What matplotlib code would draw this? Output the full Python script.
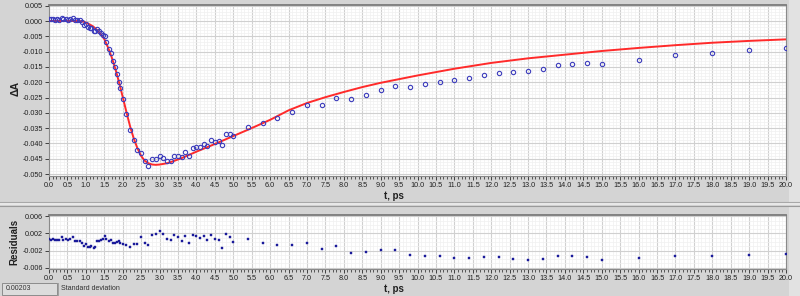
import matplotlib
matplotlib.use('Agg')
import matplotlib.pyplot as plt
from matplotlib.ticker import MultipleLocator, FixedLocator, FormatStrFormatter
from matplotlib.patches import Rectangle
from matplotlib.lines import Line2D

# ---------------- data ----------------
t_data = [0.00, 0.045, 0.11, 0.17, 0.23, 0.28, 0.34, 0.38, 0.45, 0.51, 0.56, 0.64, 0.70, 0.76,
          0.84, 0.89, 0.95, 1.00, 1.05, 1.10, 1.15, 1.21, 1.25, 1.30, 1.35, 1.41, 1.47, 1.52,
          1.56, 1.62, 1.67, 1.73, 1.78, 1.84, 1.90, 1.94, 2.0, 2.1, 2.2, 2.3, 2.4, 2.5, 2.6,
          2.7, 2.8, 2.9, 3.0, 3.1, 3.2, 3.3, 3.4, 3.5, 3.6, 3.7, 3.8, 3.9, 4.0, 4.1, 4.2, 4.3,
          4.4, 4.5, 4.6, 4.7, 4.8, 4.9, 5.0, 5.4, 5.8, 6.2, 6.6, 7.0, 7.4, 7.8, 8.2, 8.6, 9.0,
          9.4, 9.8, 10.2, 10.6, 11.0, 11.4, 11.8, 12.2, 12.6, 13.0, 13.4, 13.8, 14.2, 14.6,
          15.0, 16.0, 17.0, 18.0, 19.0, 20.0]

dA_data = [0.0007, 0.0005, 0.0007, 0.0004, 0.0005, 0.0004, 0.0011, 0.0006, 0.0007, 0.0004,
           0.0008, 0.0011, 0.0003, 0.0003, 0.0002, -0.0002, -0.0013, -0.0009, -0.0019, -0.0022,
           -0.0024, -0.0033, -0.0034, -0.0026, -0.0032, -0.0040, -0.0045, -0.0050, -0.0067,
           -0.0090, -0.0104, -0.0130, -0.0151, -0.0173, -0.0198, -0.0220, -0.0254, -0.0305,
           -0.0355, -0.0389, -0.0420, -0.0430, -0.0459, -0.0473, -0.0452, -0.0450, -0.0442,
           -0.0449, -0.0458, -0.0457, -0.0440, -0.0441, -0.0446, -0.0429, -0.0441, -0.0415,
           -0.0413, -0.0413, -0.0403, -0.0408, -0.0390, -0.0394, -0.0391, -0.0406, -0.0368,
           -0.0369, -0.0376, -0.0345, -0.0333, -0.0317, -0.0298, -0.0275, -0.0274, -0.0252,
           -0.0255, -0.0241, -0.0225, -0.0213, -0.0215, -0.0207, -0.0200, -0.0194, -0.0186,
           -0.0178, -0.0170, -0.0168, -0.0164, -0.0157, -0.0144, -0.0141, -0.0138, -0.0140,
           -0.0127, -0.0110, -0.0105, -0.0095, -0.0087]

t_fit = [0, 0.5, 0.8, 0.9, 1.0, 1.1, 1.2, 1.3, 1.4, 1.5, 1.6, 1.7, 1.8, 1.9, 2.0, 2.1, 2.2,
         2.3, 2.4, 2.5, 2.6, 2.7, 2.8, 2.9, 3.0, 3.2, 3.4, 3.6, 4.0, 4.5, 5.0, 5.5, 6.0, 6.5,
         7.0, 7.5, 8.0, 8.5, 9.0, 9.5, 10, 11, 12, 13, 14, 15, 16, 17, 18, 19, 20]
dA_fit = [0.0, 0.0, 0.0, -0.0001, -0.0005, -0.0011, -0.0018, -0.0029, -0.0042, -0.0059,
          -0.0086, -0.0118, -0.0156, -0.0200, -0.0248, -0.0297, -0.0344, -0.0384, -0.0416,
          -0.0441, -0.0457, -0.0465, -0.0469, -0.0470, -0.0469, -0.0465, -0.0457, -0.0448,
          -0.0427, -0.0402, -0.0376, -0.0350, -0.0323, -0.0292, -0.0268, -0.0249, -0.0232,
          -0.0216, -0.0202, -0.0190, -0.0178, -0.0156, -0.0137, -0.0122, -0.0110, -0.0098,
          -0.0088, -0.0079, -0.0071, -0.0065, -0.0060]

residuals = [0.00066, 0.00050, 0.00074, 0.00043, 0.00050, 0.00043, 0.00112, 0.00058, 0.00074,
             0.00043, 0.00081, 0.00112, 0.00035, 0.00027, 0.00027, -0.00012, -0.00097, -0.00043,
             -0.00112, -0.00112, -0.00097, -0.00136, -0.00112, 0.00027, 0.00027, 0.00043,
             0.00081, 0.00136, 0.00081, 0.00019, 0.00043, -0.00012, -0.00027, 0.00004, 0.00019,
             -0.00012, -0.00058, -0.00081, -0.00112, -0.00050, -0.00035, 0.00112, -0.00019,
             -0.00081, 0.00174, 0.00190, 0.00267, 0.00182, 0.00074, 0.00043, 0.00174, 0.00120,
             0.00019, 0.00143, -0.00027, 0.00174, 0.00143, 0.00089, 0.00143, 0.00043, 0.00174,
             0.00081, 0.00058, -0.00136, 0.00182, 0.00120, 0.00004, 0.00066, -0.00019, -0.00066,
             -0.00081, -0.00019, -0.00167, -0.00089, -0.00260, -0.00236, -0.00190, -0.00190,
             -0.00306, -0.00322, -0.00337, -0.00368, -0.00368, -0.00353, -0.00353, -0.00399,
             -0.00415, -0.00399, -0.00322, -0.00337, -0.00353, -0.00430, -0.00384, -0.00322,
             -0.00337, -0.00306, -0.00275]

main_yticks = [0.005, 0.000, -0.005, -0.010, -0.015, -0.020, -0.025, -0.030, -0.035, -0.040,
               -0.045, -0.050]
res_yticks = [0.006, 0.002, -0.002, -0.006]
std_dev_value = "0.00203"

# ---------------- styling ----------------
W, H = 800, 296
FONT = 'Liberation Sans'
TICK_FS = 5.2
LAB_FS = 7.0
BG = '#d4d4d4'

fig = plt.figure(figsize=(W / 100, H / 100), dpi=100)
fig.patch.set_facecolor(BG)


def px_axes(left, top, right, bottom):
    return fig.add_axes([left / W, (H - bottom) / H, (right - left) / W, (bottom - top) / H])


def style_axes(ax):
    ax.set_facecolor('white')
    for s in ax.spines.values():
        s.set_color('#8a8a8a')
        s.set_linewidth(0.8)
    ax.spines['top'].set_color('#7a7a7a')
    ax.spines['top'].set_linewidth(1.3)
    ax.set_xlim(0, 20)
    ax.xaxis.set_major_locator(MultipleLocator(0.5))
    ax.xaxis.set_minor_locator(MultipleLocator(0.1))
    ax.xaxis.set_major_formatter(FormatStrFormatter('%.1f'))
    ax.tick_params(axis='both', which='major', direction='out', length=3, width=0.7,
                   color='#404040', labelsize=TICK_FS, labelcolor='#202020', pad=1.5)
    ax.tick_params(axis='both', which='minor', direction='out', length=1.8, width=0.6,
                   color='#404040')
    ax.tick_params(axis='y', which='minor', length=0)
    ax.grid(True, which='major', color='#d0d0d0', lw=0.8, zorder=0)
    ax.grid(True, which='minor', color='#f0f0f0', lw=0.5, zorder=0)
    ax.set_axisbelow(True)
    for lab in ax.get_xticklabels() + ax.get_yticklabels():
        lab.set_fontfamily(FONT)


# panel separators
fig.add_artist(Line2D([0, 1], [(H - 202) / H] * 2, color='#a8a8a8', lw=0.8))
fig.add_artist(Line2D([0, 1], [(H - 204) / H] * 2, color='#ececec', lw=1.2))
fig.add_artist(Line2D([0, 1], [(H - 206) / H] * 2, color='#9a9a9a', lw=0.8))
# right light strip
fig.add_artist(Rectangle((789 / W, (H - 202) / H), 11 / W, 202 / H, transform=fig.transFigure,
                         facecolor='#e2e2e2', edgecolor='none', zorder=-1))
fig.add_artist(Rectangle((789 / W, 0), 11 / W, (H - 207) / H, transform=fig.transFigure,
                         facecolor='#e2e2e2', edgecolor='none', zorder=-1))

# ---------------- main panel ----------------
ax = px_axes(49, 5, 786, 176)
style_axes(ax)
ax.set_ylim(-0.05065, 0.00523)
ax.yaxis.set_major_locator(FixedLocator(main_yticks))
ax.yaxis.set_minor_locator(MultipleLocator(0.001))
ax.yaxis.set_major_formatter(FormatStrFormatter('%.3f'))
for lab in ax.get_yticklabels():
    lab.set_fontfamily(FONT)
ax.plot(t_fit, dA_fit, color='#ff2a2a', lw=1.4, zorder=3, solid_joinstyle='round')
ax.plot(t_data, dA_data, ls='none', marker='o', ms=3.1, mfc='none', mec='#3c3cbc',
        mew=0.8, zorder=4)
fig.text(16 / W, (H - 88) / H, 'ΔA', rotation=90, ha='center', va='center',
         fontsize=7.6, fontweight='bold', family=FONT, color='#202020')
fig.text(394 / W, (H - 196) / H, 't, ps', ha='center', va='center',
         fontsize=LAB_FS, fontweight='bold', family=FONT, color='#202020')

# ---------------- residual panel ----------------
ax2 = px_axes(49, 215, 786, 269)
style_axes(ax2)
ax2.set_ylim(-0.0063, 0.0063)
ax2.yaxis.set_major_locator(FixedLocator(res_yticks))
ax2.yaxis.set_minor_locator(MultipleLocator(0.001))
ax2.yaxis.set_major_formatter(FormatStrFormatter('%.3f'))
for lab in ax2.get_yticklabels():
    lab.set_fontfamily(FONT)
ax2.plot(t_data, residuals, ls='none', marker='s', ms=1.9, mfc='#1a1a9a', mec='#1a1a9a',
         mew=0.3, zorder=4)
fig.text(14 / W, (H - 242) / H, 'Residuals', rotation=90, ha='center', va='center',
         fontsize=LAB_FS, fontweight='bold', family=FONT, color='#202020')
fig.text(394 / W, (H - 289) / H, 't, ps', ha='center', va='center',
         fontsize=LAB_FS, fontweight='bold', family=FONT, color='#202020')

# ---------------- status box ----------------
fig.add_artist(Rectangle((2 / W, 1 / H), 55 / W, 12 / H, transform=fig.transFigure,
                         facecolor='#dcdcdc', edgecolor='#8c8c8c', lw=0.7))
fig.add_artist(Line2D([58 / W, 58 / W], [1 / H, 13 / H], color='#a0a0a0', lw=0.7))
fig.text(6 / W, 7 / H, std_dev_value, ha='left', va='center', fontsize=5.0, family=FONT,
         color='#303030')
fig.text(61 / W, 7 / H, 'Standard deviation', ha='left', va='center', fontsize=5.0,
         family=FONT, color='#303030')

fig.savefig('out.png', dpi=100, facecolor=fig.get_facecolor())
